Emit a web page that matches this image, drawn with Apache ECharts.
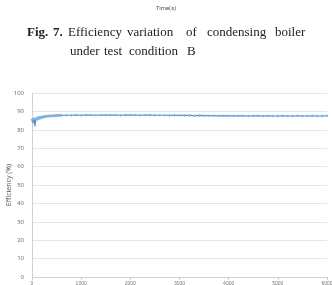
<!DOCTYPE html>
<html><head><meta charset="utf-8">
<script src="https://cdn.jsdelivr.net/npm/echarts@6/dist/echarts.min.js"></script>
<style>html,body{margin:0;padding:0;background:#fff}#c{width:332px;height:285px}</style>
</head><body><div id="c"></div>
<script>
const timeSec = [0,20,40,60,80,100,120,140,160,180,200,220,240,260,280,300,320,340,360,380,400,420,440,460,480,500,520,540,560,580,600,
700,800,900,1000,1100,1200,1300,1400,1500,1600,1700,1800,1900,2000,2100,2200,2300,2400,2500,2600,2700,2800,2900,3000,3100,3200,3300,3400,3500,3600,3700,3800,3900,4000,4100,4200,4300,4400,4500,4600,4700,4800,4900,5000,5100,5200,5300,5400,5500,5600,5700,5800,5900,6000];
const efficiency = [85.5,84.0,86.2,82.5,85.8,86.5,85.6,86.8,86.2,87.0,86.6,87.2,86.9,87.4,87.1,87.5,87.3,87.6,87.4,87.7,87.5,87.7,87.6,87.8,87.7,87.8,87.7,87.9,87.8,87.9,87.8,
87.9,87.9,88.0,87.9,88.0,88.0,87.9,88.0,88.0,
88.0,88.0,87.9,88.0,88.0,88.0,87.9,88.0,88.0,87.9,
87.9,87.9,87.8,87.9,87.8,87.8,87.8,87.7,87.8,87.7,
87.7,87.7,87.6,87.7,87.6,87.6,87.6,87.6,87.5,87.6,
87.6,87.5,87.6,87.5,87.5,87.6,87.5,87.5,87.6,87.5,
87.5,87.6,87.5,87.5,87.6];
const xTicks = ['0','1000','2000','3000','4000','5000','6000'];
const yName = 'Efficiency (%)';
const prevAxisTitle = 'Time(s)';
const captionBold = ['Fig.','7.'];
const captionLine1 = ['Efficiency','variation','of','condensing','boiler'];
const captionLine2 = ['under','test','condition','B'];

// word left positions (layout only)
const boldX = [27,53];
const line1X = [68,127,186,207,275];
const line2X = [70,104,129,187];

const graphics = [{type:'text',left:'center',top:5,style:{text:prevAxisTitle,font:'6px Roboto',fill:'#555'}}];
captionBold.forEach((w,i)=>graphics.push({type:'text',left:boldX[i],top:26,style:{text:w,font:'bold 13px "Liberation Serif"',fill:'#222'}}));
captionLine1.forEach((w,i)=>graphics.push({type:'text',left:line1X[i],top:26,style:{text:w,font:'13px "Liberation Serif"',fill:'#222'}}));
captionLine2.forEach((w,i)=>graphics.push({type:'text',left:line2X[i],top:45,style:{text:w,font:'13px "Liberation Serif"',fill:'#222'}}));

const chart = echarts.init(document.getElementById('c'), null, {renderer:'canvas'});
chart.setOption({
  animation:false,
  grid:{left:32,right:5,top:93,bottom:8,containLabel:false,outerBoundsMode:'none'},
  graphic:graphics,
  xAxis:{type:'value',min:0,max:6000,interval:1000,
    axisLine:{lineStyle:{color:'#d0d0d0'}},
    axisTick:{show:true,length:3,lineStyle:{color:'#d0d0d0'}},
    splitLine:{show:false},
    axisLabel:{fontSize:5,color:'#777',margin:4,formatter:(v,i)=>xTicks[i]}},
  yAxis:{type:'value',min:0,max:100,interval:10,name:yName,nameLocation:'middle',nameGap:20,nameMoveOverlap:false,
    nameTextStyle:{fontSize:7,color:'#555',fontFamily:'Open Sans'},
    axisLine:{show:true,lineStyle:{color:'#d0d0d0'}},
    axisTick:{show:false},
    splitLine:{lineStyle:{color:'#e6e6e6'}},
    axisLabel:{fontSize:6,color:'#666',margin:8,fontFamily:'Open Sans'}},
  series:[{type:'line',data:timeSec.map((t,i)=>[t,efficiency[i]]),
    symbol:'diamond',symbolSize:3,showAllSymbol:true,
    itemStyle:{color:'#7fb2e0'},
    lineStyle:{color:'#4a8ccc',width:1.2}}]
});
</script></body></html>
